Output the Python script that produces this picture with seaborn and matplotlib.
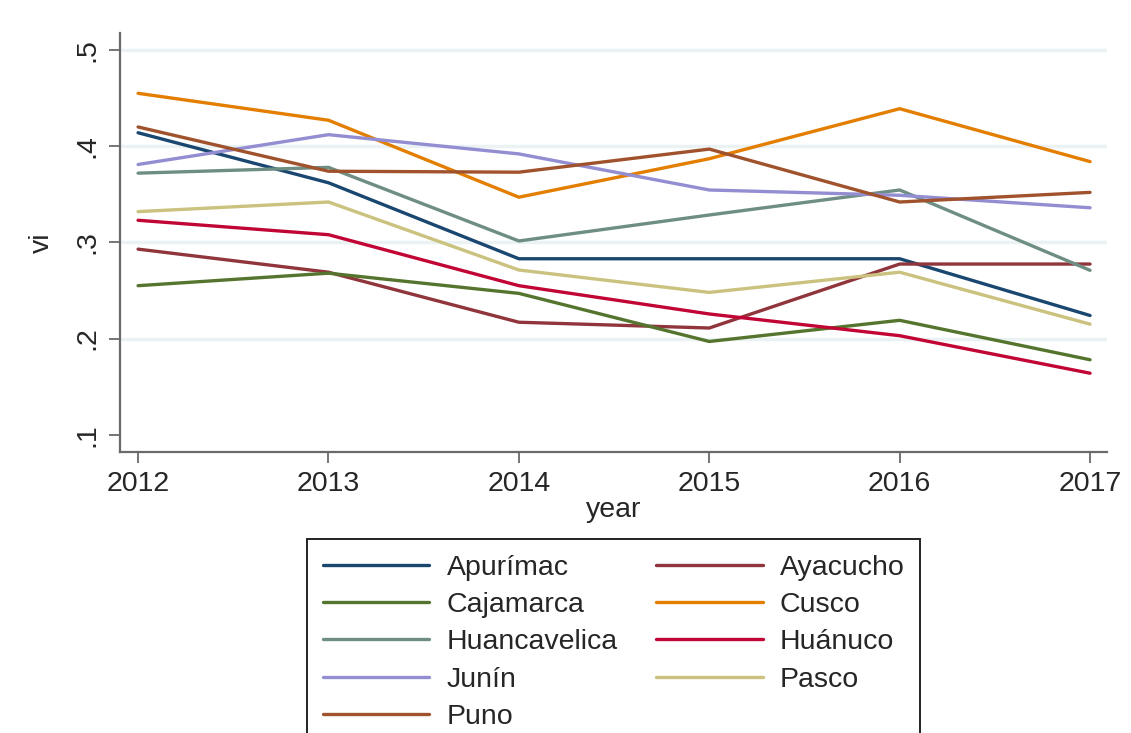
import pandas as pd
import matplotlib.pyplot as plt
import seaborn as sns

# values
years = [2012, 2013, 2014, 2015, 2016, 2017]
apurimac = [0.414, 0.362, 0.283, 0.283, 0.283, 0.224]
ayacucho = [0.293, 0.269, 0.217, 0.211, 0.2775, 0.2775]
cajamarca = [0.255, 0.268, 0.247, 0.197, 0.219, 0.178]
cusco = [0.455, 0.427, 0.347, 0.387, 0.439, 0.384]
huancavelica = [0.372, 0.378, 0.3015, 0.3285, 0.3545, 0.271]
huanuco = [0.323, 0.308, 0.255, 0.2256, 0.203, 0.164]
junin = [0.381, 0.412, 0.392, 0.3545, 0.349, 0.336]
pasco = [0.332, 0.342, 0.2713, 0.248, 0.269, 0.215]
puno = [0.420, 0.374, 0.373, 0.397, 0.342, 0.352]

regions = ['Apurímac', 'Ayacucho', 'Cajamarca', 'Cusco', 'Huancavelica',
           'Huánuco', 'Junín', 'Pasco', 'Puno']
series = [apurimac, ayacucho, cajamarca, cusco, huancavelica,
          huanuco, junin, pasco, puno]

y_ticks = [0.1, 0.2, 0.3, 0.4, 0.5]
y_tick_labels = ['.1', '.2', '.3', '.4', '.5']

# Stata s2color palette
colors = ['#1a476f', '#90353b', '#55752f', '#e37e00', '#6e8e84',
          '#c10534', '#938dd2', '#cac27e', '#a0522d']

rows = []
for name, vals in zip(regions, series):
    for yr, v in zip(years, vals):
        rows.append({'year': yr, 'vi': v, 'region': name})
df = pd.DataFrame(rows)

sns.set_style("white")
plt.rcParams['font.family'] = ['Liberation Sans', 'DejaVu Sans']
fs = 20.5

fig = plt.figure(figsize=(11.31, 7.33), dpi=100)
W, H = 1131, 733
ax = fig.add_axes([120 / W, 1 - 452 / H, (1107 - 120) / W, (452 - 33) / H])

sns.lineplot(data=df, x='year', y='vi', hue='region', hue_order=regions,
             palette=colors, linewidth=2.4, ax=ax, legend=False)

ax.set_xlim(2011.905, 2017.089)
ax.set_ylim(0.0821, 0.5177)
ax.set_xticks(years)
ax.set_xticklabels([str(y) for y in years])
ax.set_yticks(y_ticks)
ax.set_yticklabels(y_tick_labels, rotation=90, va='center')

ax.yaxis.grid(True, color='#eaf2f3', linewidth=2.5)
ax.get_ygridlines()[0].set_visible(False)
ax.set_axisbelow(True)

for side in ['top', 'right']:
    ax.spines[side].set_visible(False)
for side in ['left', 'bottom']:
    ax.spines[side].set_color('#6a6a6a')
    ax.spines[side].set_linewidth(1.6)
ax.tick_params(axis='both', direction='out', length=8, width=1.3,
               color='#6a6a6a', labelsize=fs, pad=6, left=True, bottom=True)

ax.set_xlabel('year', fontsize=fs, labelpad=0)
ax.set_ylabel('vi', fontsize=fs, labelpad=14)

# legend, row-major like Stata -> reorder for matplotlib column fill
handles = {r: plt.Line2D([], [], color=c, linewidth=2.4) for r, c in zip(regions, colors)}
order = ['Apurímac', 'Cajamarca', 'Huancavelica', 'Junín', 'Puno',
         'Ayacucho', 'Cusco', 'Huánuco', 'Pasco']
leg = fig.legend([handles[r] for r in order], order, ncol=2,
                 loc='upper left', bbox_to_anchor=(307 / W, 1 - 539 / H),
                 fontsize=fs, frameon=True, fancybox=False, framealpha=1,
                 edgecolor='#222222', handlelength=3.75, handletextpad=0.6,
                 columnspacing=1.35, labelspacing=0.4, borderpad=0.55,
                 borderaxespad=0)
leg.get_frame().set_linewidth(1.4)

fig.savefig('out.png', dpi=100)
